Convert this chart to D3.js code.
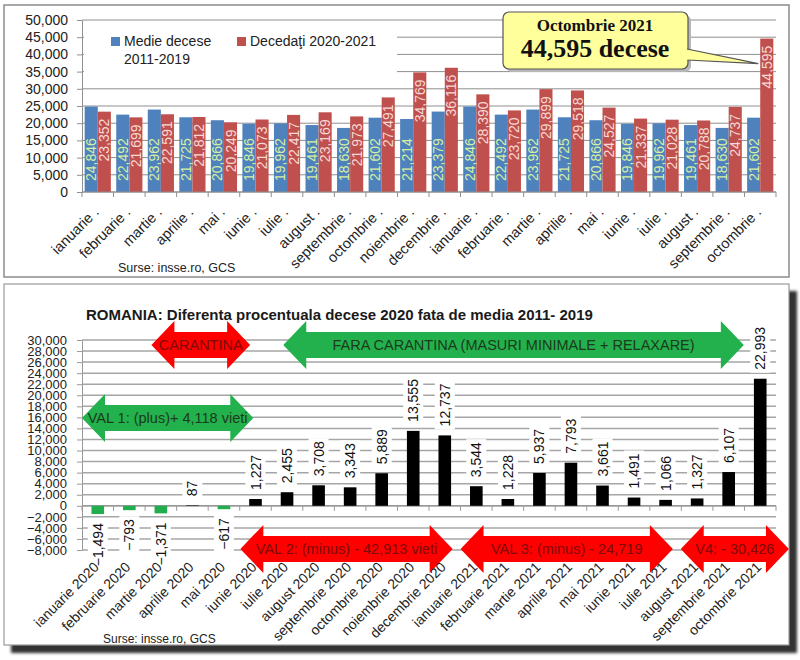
<!DOCTYPE html>
<html>
<head>
<meta charset="utf-8">
<script src="https://cdn.jsdelivr.net/npm/d3@7"></script>
<style>
  body { margin: 0; background: #fff; }
  svg { font-family: "Liberation Sans", Arial, sans-serif; }
</style>
</head>
<body>
<svg id="chart" width="800" height="660"></svg>
<script>
// date grafic sus
var luniSus = ["ianuarie .", "februarie .", "martie .", "aprilie .", "mai .", "iunie .", "iulie .", "august .",
  "septembrie .", "octombrie .", "noiembrie .", "decembrie .", "ianuarie .", "februarie .", "martie .",
  "aprilie .", "mai .", "iunie .", "iulie .", "august .", "septembrie .", "octombrie ."];
var medie = [24846, 22492, 23962, 21725, 20866, 19846, 19962, 19461, 18630, 21602, 21214, 23379,
  24846, 22492, 23962, 21725, 20866, 19846, 19962, 19461, 18630, 21602];
var decedati = [23352, 21699, 22591, 21812, 20249, 21073, 22417, 23169, 21973, 27491, 34769, 36116,
  28390, 23720, 29899, 29518, 24527, 21337, 21028, 20788, 24737, 44595];
var ySus = [0, 5000, 10000, 15000, 20000, 25000, 30000, 35000, 40000, 45000, 50000];

// date grafic jos
var luniJos = ["ianuarie 2020", "februarie 2020", "martie 2020", "aprilie 2020", "mai 2020", "iunie 2020",
  "iulie 2020", "august 2020", "septembrie 2020", "octombrie 2020", "noiembrie 2020", "decembrie 2020",
  "ianuarie 2021", "februarie 2021", "martie 2021", "aprilie 2021", "mai 2021", "iunie 2021",
  "iulie 2021", "august 2021", "septembrie 2021", "octombrie 2021"];
var diferenta = [-1494, -793, -1371, 87, -617, 1227, 2455, 3708, 3343, 5889, 13555, 12737,
  3544, 1228, 5937, 7793, 3661, 1491, 1066, 1327, 6107, 22993];
var yJos = d3.range(-8000, 30001, 2000);

// sageti (interval in luni, nivel in decese)
var sageti = [
  {text: "CARANTINA", de: 2.2, pana: 5.33, la: 29100, tip: "rosu"},
  {text: "FARA CARANTINA (MASURI MINIMALE + RELAXARE)", de: 6.38, pana: 20.98, la: 29100, tip: "verde"},
  {text: "VAL 1: (plus)+ 4,118 vieti", de: 0, pana: 5.43, la: 15900, tip: "verde"},
  {text: "VAL 2: (minus) - 42,913 vieti", de: 5.02, pana: 11.75, la: -7800, tip: "rosu"},
  {text: "VAL 3: (minus) - 24,719", de: 12.0, pana: 18.73, la: -7800, tip: "rosu"},
  {text: "V4: - 30,426", de: 18.98, pana: 22.41, la: -7800, tip: "rosu"}
];

var svg = d3.select("#chart");
var fmt = d3.format(",");
var serif = "'Liberation Serif', 'DejaVu Serif', serif";
var ingust = "'Liberation Sans Narrow', 'Arial Narrow', 'Liberation Sans', sans-serif";

// ================= grafic sus =================
svg.append("rect")
  .attr("x", 4).attr("y", 5).attr("width", 785).attr("height", 272)
  .attr("fill", "#fff").attr("stroke", "#8c8c8c").attr("stroke-width", 1.5);

var x1 = d3.scaleBand().domain(d3.range(luniSus.length)).range([82, 776])
  .paddingInner(0.17).paddingOuter(0.085);
var xs = d3.scaleBand().domain([0, 1]).range([0, x1.bandwidth()]);
var y1 = d3.scaleLinear().domain([0, 50000]).range([192, 20]);

svg.append("g").selectAll("line").data(ySus).enter().append("line")
  .attr("x1", 82).attr("x2", 776)
  .attr("y1", d => y1(d)).attr("y2", d => y1(d))
  .attr("stroke", "#8f8f8f").attr("stroke-width", 1);

// legenda acopera liniile
svg.append("rect").attr("x", 84).attr("y", 27).attr("width", 313).attr("height", 52).attr("fill", "#fff");
svg.append("rect").attr("x", 111).attr("y", 37).attr("width", 9).attr("height", 9).attr("fill", "#4f81bd");
svg.append("text").attr("x", 124).attr("y", 46).attr("font-size", 14).attr("fill", "#222").text("Medie decese");
svg.append("text").attr("x", 124).attr("y", 64).attr("font-size", 14).attr("fill", "#222").text("2011-2019");
svg.append("rect").attr("x", 237).attr("y", 37).attr("width", 9).attr("height", 9).attr("fill", "#c0504d");
svg.append("text").attr("x", 250).attr("y", 46).attr("font-size", 14).attr("fill", "#222").text("Decedaţi 2020-2021");

var axa1 = svg.append("g").attr("transform", "translate(82,0)")
  .call(d3.axisLeft(y1).tickValues(ySus).tickFormat(fmt).tickSize(5).tickSizeOuter(0).tickPadding(9));
axa1.attr("font-family", null);
axa1.select(".domain").attr("stroke", "#8f8f8f");
axa1.selectAll(".tick line").attr("stroke", "#8f8f8f");
axa1.selectAll("text").attr("font-size", 14).attr("fill", "#222");

var grup1 = svg.append("g").selectAll("g").data(luniSus).enter().append("g")
  .attr("transform", (d, i) => "translate(" + x1(i) + ",0)");

grup1.append("rect")
  .attr("x", xs(0)).attr("width", xs.bandwidth())
  .attr("y", (d, i) => y1(medie[i])).attr("height", (d, i) => y1(0) - y1(medie[i]))
  .attr("fill", "#4f81bd");
grup1.append("rect")
  .attr("x", xs(1)).attr("width", xs.bandwidth())
  .attr("y", (d, i) => y1(decedati[i])).attr("height", (d, i) => y1(0) - y1(decedati[i]))
  .attr("fill", "#c0504d");

grup1.append("text")
  .attr("transform", (d, i) => "translate(" + (xs(0) + xs.bandwidth() / 2 + 5) + "," + (y1(0) - 11) + ") rotate(-90)")
  .attr("font-size", 14).attr("fill", "#d6efa2")
  .text((d, i) => fmt(medie[i]));
grup1.append("text")
  .attr("transform", (d, i) => "translate(" + (xs(1) + xs.bandwidth() / 2 + 5) + "," + (y1(decedati[i]) + 7) + ") rotate(-90)")
  .attr("text-anchor", "end")
  .attr("font-size", 14).attr("fill", "#f6d9d5")
  .text((d, i) => fmt(decedati[i]));

// axa x sus
svg.append("line").attr("x1", 82).attr("x2", 776).attr("y1", y1(0)).attr("y2", y1(0))
  .attr("stroke", "#8f8f8f");
svg.append("g").selectAll("line").data(d3.range(luniSus.length + 1)).enter().append("line")
  .attr("x1", i => 82 + i * x1.step()).attr("x2", i => 82 + i * x1.step())
  .attr("y1", y1(0)).attr("y2", y1(0) + 5)
  .attr("stroke", "#8f8f8f");
svg.append("g").selectAll("text").data(luniSus).enter().append("text")
  .attr("transform", (d, i) => "translate(" + (x1(i) + x1.bandwidth() / 2 + 2) + ",213) rotate(-45)")
  .attr("text-anchor", "end").attr("font-size", 14.5).attr("fill", "#222")
  .text(d => d);

svg.append("text").attr("x", 118).attr("y", 272)
  .style("font-family", ingust)
  .attr("font-size", 12.5).attr("fill", "#222").text("Surse: insse.ro, GCS");

// caseta octombrie 2021
var ultim = luniJos.length - 1;
var varfX = x1(ultim) + xs(1) - 2, varfY = y1(decedati[ultim]) + 25;
svg.append("rect").attr("x", 506).attr("y", 15).attr("width", 185).attr("height", 57).attr("rx", 6)
  .attr("fill", "#b8b8b8");
svg.append("rect").attr("x", 503).attr("y", 12).attr("width", 185).attr("height", 57).attr("rx", 6)
  .attr("fill", "#ffff9c").attr("stroke", "#555").attr("stroke-width", 1.2);
svg.append("path").attr("d", "M687,49 L" + varfX + "," + varfY + " L687,60")
  .attr("fill", "#ffff9c").attr("stroke", "#555").attr("stroke-width", 1.1);
svg.append("line").attr("x1", 687.5).attr("x2", 687.5).attr("y1", 50).attr("y2", 59.5)
  .attr("stroke", "#ffff9c").attr("stroke-width", 2);
var lunaUltima = luniJos[ultim].charAt(0).toUpperCase() + luniJos[ultim].slice(1);
svg.append("text").attr("x", 595).attr("y", 31).attr("text-anchor", "middle")
  .style("font-family", serif).attr("font-weight", "bold").attr("font-size", 17)
  .attr("fill", "#111").text(lunaUltima);
svg.append("text").attr("x", 595).attr("y", 57).attr("text-anchor", "middle")
  .style("font-family", serif).attr("font-weight", "bold").attr("font-size", 26)
  .attr("fill", "#111").text(fmt(decedati[ultim]) + " decese");

// ================= grafic jos =================
var defs = svg.append("defs");
defs.append("filter").attr("id", "umbra").append("feGaussianBlur").attr("stdDeviation", 1.5);
svg.append("rect").attr("x", 11).attr("y", 291).attr("width", 786).attr("height", 362)
  .attr("fill", "#333").attr("filter", "url(#umbra)");
svg.append("rect").attr("x", 4).attr("y", 284).attr("width", 785).attr("height", 361)
  .attr("fill", "#fff").attr("stroke", "#9a9a9a").attr("stroke-width", 1.2);

svg.append("text").attr("x", 86).attr("y", 320)
  .attr("font-weight", "bold").attr("font-size", 15).attr("fill", "#1a1a1a")
  .text("ROMANIA: Diferenta procentuala decese 2020 fata de media 2011- 2019");

var x2 = d3.scaleBand().domain(d3.range(luniJos.length)).range([82, 776])
  .paddingInner(0.6).paddingOuter(0.3);
var y2 = d3.scaleLinear().domain([-8000, 30000]).range([550, 340]);
var cx = i => x2(i) + x2.bandwidth() / 2;
var px = u => 82 + u * x2.step();

svg.append("g").selectAll("line").data(yJos).enter().append("line")
  .attr("x1", 82).attr("x2", 776)
  .attr("y1", d => y2(d)).attr("y2", d => y2(d))
  .attr("stroke", "#a6a6a6").attr("stroke-width", 1.5);

var axa2 = svg.append("g").attr("transform", "translate(82,0)")
  .call(d3.axisLeft(y2).tickValues(yJos).tickFormat(fmt).tickSize(5).tickSizeOuter(0).tickPadding(10));
axa2.attr("font-family", null);
axa2.select(".domain").attr("stroke", "#999");
axa2.selectAll(".tick line").attr("stroke", "#999");
axa2.selectAll("text").attr("font-size", 13).attr("fill", "#222");

// axa zero
svg.append("line").attr("x1", 82).attr("x2", 776).attr("y1", y2(0)).attr("y2", y2(0))
  .attr("stroke", "#999").attr("stroke-width", 1.5);
svg.append("g").selectAll("line").data(d3.range(luniJos.length + 1)).enter().append("line")
  .attr("x1", i => 82 + i * x2.step()).attr("x2", i => 82 + i * x2.step())
  .attr("y1", y2(0)).attr("y2", y2(0) + 5)
  .attr("stroke", "#999");

// etichete valori cu fond alb
var etich = svg.append("g").selectAll("g").data(diferenta).enter().append("g");
etich.append("rect").attr("fill", "#fff");
etich.append("text")
  .attr("transform", (d, i) => d >= 0
    ? "translate(" + (cx(i) + 5) + "," + (y2(d) - 9) + ") rotate(-90)"
    : "translate(" + (cx(i) + 5) + "," + (y2(d) + 9) + ") rotate(-90)")
  .attr("text-anchor", d => d >= 0 ? "start" : "end")
  .attr("font-size", 14).attr("fill", "#111")
  .text(d => fmt(d));
etich.each(function (d, i) {
  var len = d3.select(this).select("text").node().getComputedTextLength();
  var top = d >= 0 ? y2(d) - 9 - len - 3 : y2(d) + 6;
  d3.select(this).select("rect")
    .attr("x", cx(i) - 10).attr("width", 20)
    .attr("y", top).attr("height", len + 6);
});

// bare
svg.append("g").selectAll("rect").data(diferenta).enter().append("rect")
  .attr("x", (d, i) => x2(i)).attr("width", x2.bandwidth())
  .attr("y", d => y2(Math.max(0, d)))
  .attr("height", d => Math.abs(y2(d) - y2(0)))
  .attr("fill", d => d >= 0 ? "#000" : "#22ad4f");

// sageti
var culori = {rosu: {fill: "#ff0000", text: "#7d0a0a"}, verde: {fill: "#22b14c", text: "#1c3a1c"}};
function sageata(a, b, c) {
  var L = 23, H = 24, S = 13;
  return "M" + a + "," + c + " L" + (a + L) + "," + (c - H) + " L" + (a + L) + "," + (c - S) +
    " L" + (b - L) + "," + (c - S) + " L" + (b - L) + "," + (c - H) + " L" + b + "," + c +
    " L" + (b - L) + "," + (c + H) + " L" + (b - L) + "," + (c + S) + " L" + (a + L) + "," + (c + S) +
    " L" + (a + L) + "," + (c + H) + " Z";
}
var sg = svg.append("g").selectAll("g").data(sageti).enter().append("g");
sg.append("path")
  .attr("d", d => sageata(px(d.de), px(d.pana), y2(d.la)))
  .attr("fill", d => culori[d.tip].fill);
sg.append("text")
  .attr("x", d => (px(d.de) + px(d.pana)) / 2).attr("y", d => y2(d.la) + 5)
  .attr("text-anchor", "middle").attr("font-size", 14.5)
  .attr("fill", d => culori[d.tip].text)
  .text(d => d.text);

// etichete luni jos
svg.append("g").selectAll("text").data(luniJos).enter().append("text")
  .attr("transform", (d, i) => "translate(" + (cx(i) + 2) + ",568) rotate(-45)")
  .attr("text-anchor", "end").attr("font-size", 14).attr("fill", "#222")
  .text(d => d);

svg.append("text").attr("x", 103).attr("y", 643)
  .attr("font-size", 12).attr("fill", "#222").text("Surse: insse.ro, GCS");
</script>
</body>
</html>
